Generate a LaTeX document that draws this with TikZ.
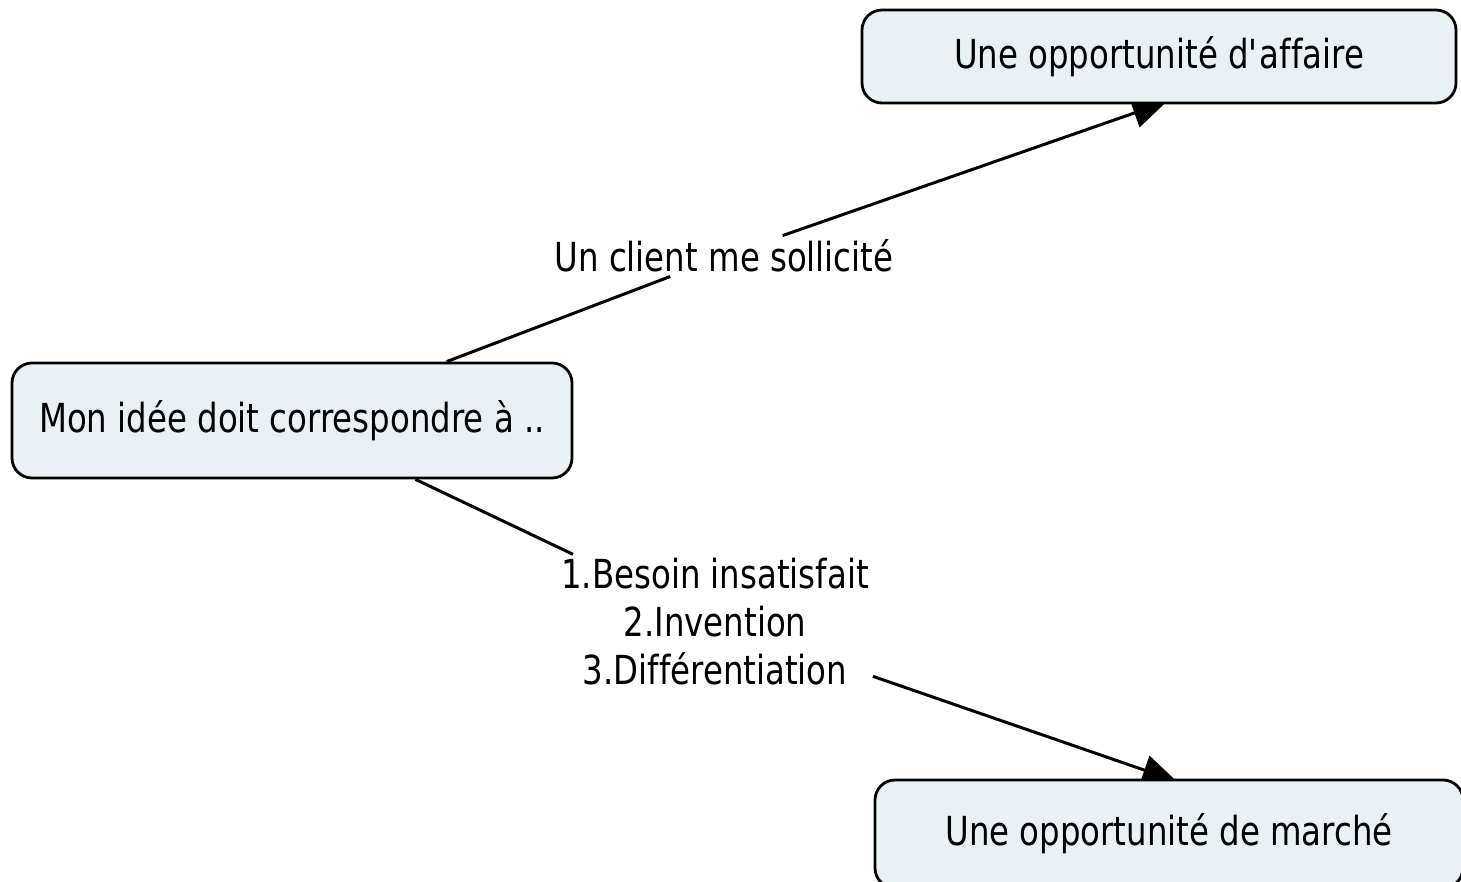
\documentclass[tikz,border=0pt]{standalone}
\usepackage{fontspec}
\setmainfont{DejaVu Sans}[FakeStretch=0.81, Ligatures=NoCommon]
\usepackage{tikz}
\usetikzlibrary{arrows.meta,backgrounds}
\definecolor{conceptfill}{RGB}{233,241,244}

\begin{document}
\begin{tikzpicture}[x=1pt,y=-1pt,
  concept/.style={draw, rounded corners=20pt, line width=2.8pt, fill=conceptfill,
    font=\fontsize{40}{48}\selectfont},
  linkword/.style={font=\fontsize{40}{48}\selectfont, align=center, inner sep=4pt},
  link/.style={line width=3pt},
  linkarrow/.style={link, -{Triangle[length=34pt,width=30pt]}, shorten >=-8pt}]
\useasboundingbox (0,0) rectangle (1461,882);

\node[concept, minimum width=560pt, minimum height=115pt] (idee) at (292,420.5)
{Mon idée doit correspondre à ..};
\node[concept, minimum width=594pt, minimum height=93pt] (affaire) at (1159,56.5)
{Une opportunité d\textquotesingle affaire};
\node[concept, minimum width=588pt, minimum height=108pt] (marche) at (1169,834)
{Une opportunité de marché};

\node[linkword] (client) at (724,256) {Un client me sollicité};
\node[linkword] (besoin) at (715,622)
{1.Besoin insatisfait\\2.Invention\\3.Différentiation};

\begin{pgfonlayer}{background}
\draw[link] (idee) -- (client);
\draw[linkarrow] (client) -- (affaire.south);
\draw[link] (idee) -- (besoin);
\draw[linkarrow] (besoin) -- (marche.north);
\end{pgfonlayer}
\end{tikzpicture}
\end{document}
